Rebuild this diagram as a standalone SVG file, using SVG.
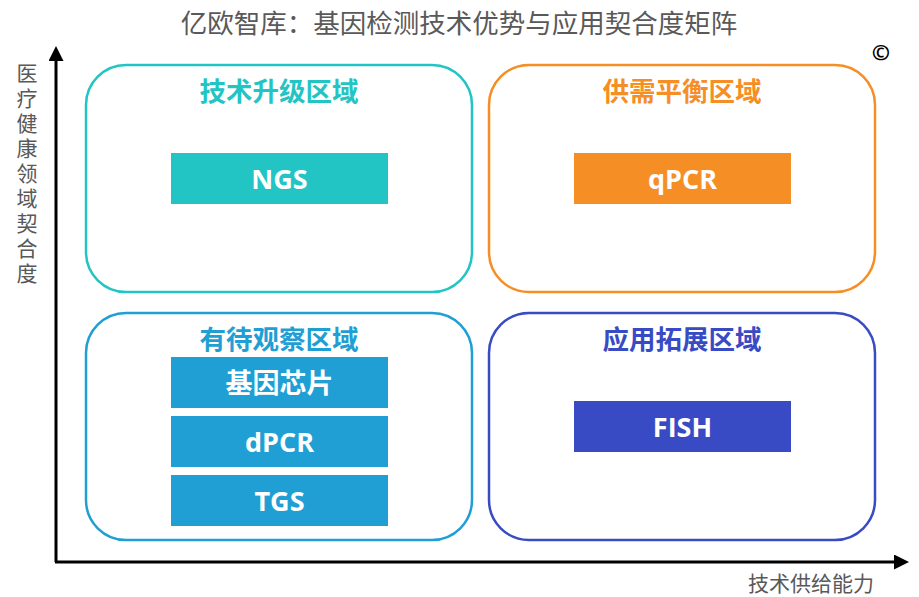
<svg xmlns="http://www.w3.org/2000/svg" width="919" height="597" viewBox="0 0 919 597">
<defs>
<style>
.t{font-family:"Open Sans","Noto Sans CJK SC",sans-serif}
.title{font-size:26.5px;fill:#595959}
.axl{font-size:21px;fill:#595959}
.zone{fill:none;stroke-width:2.5}
.zl{font-size:26.5px;font-weight:bold;text-anchor:middle}
.nl{font-size:27px;font-weight:bold;fill:#fff;text-anchor:middle}
</style>
<marker id="ah" markerWidth="15" markerHeight="15" refX="1" refY="7.5" orient="auto" markerUnits="userSpaceOnUse">
<path d="M0,0 L15,7.5 L0,15 Z" fill="#000"/>
</marker>
</defs>
<rect width="919" height="597" fill="#fff"/>
<text class="t title" x="459" y="33" text-anchor="middle">亿欧智库：基因检测技术优势与应用契合度矩阵</text>
<text class="t" x="881" y="60" font-size="22" font-weight="bold" fill="#000" text-anchor="middle">©</text>
<g id="connectors">
<path d="M56,562 V60" stroke="#000" stroke-width="3" fill="none" marker-end="url(#ah)"/>
<path d="M55,562 H895" stroke="#000" stroke-width="3" fill="none" marker-end="url(#ah)"/>
</g>
<text class="t axl" x="26" y="63" style="writing-mode:vertical-rl;letter-spacing:4px">医疗健康领域契合度</text>
<text class="t axl" x="811" y="591" text-anchor="middle">技术供给能力</text>
<g id="zone-upgrade">
<rect class="zone" x="86" y="65" width="386" height="227" rx="40" stroke="#23C4C4"/>
<text class="t zl" x="279" y="101" fill="#23C4C4">技术升级区域</text>
</g>
<g id="zone-balance">
<rect class="zone" x="489" y="65" width="386" height="227" rx="40" stroke="#F68E26"/>
<text class="t zl" x="682" y="101" fill="#F68E26">供需平衡区域</text>
</g>
<g id="zone-observe">
<rect class="zone" x="86" y="313" width="386" height="227" rx="40" stroke="#1F9FD3"/>
<text class="t zl" x="279" y="349" fill="#1F9FD3">有待观察区域</text>
</g>
<g id="zone-expand">
<rect class="zone" x="489" y="313" width="386" height="227" rx="40" stroke="#384BC5"/>
<text class="t zl" x="682" y="349" fill="#384BC5">应用拓展区域</text>
</g>
<g id="node-ngs">
<rect x="171" y="153" width="217" height="51" fill="#23C4C4"/>
<text class="t nl" x="279.5" y="189">NGS</text>
</g>
<g id="node-qpcr">
<rect x="574" y="153" width="217" height="51" fill="#F68E26"/>
<text class="t nl" x="682.5" y="189">qPCR</text>
</g>
<g id="node-chip">
<rect x="171" y="357" width="217" height="51" fill="#1F9FD3"/>
<text class="t nl" x="279.5" y="393">基因芯片</text>
</g>
<g id="node-dpcr">
<rect x="171" y="416" width="217" height="51" fill="#1F9FD3"/>
<text class="t nl" x="279.5" y="452">dPCR</text>
</g>
<g id="node-tgs">
<rect x="171" y="475" width="217" height="51" fill="#1F9FD3"/>
<text class="t nl" x="279.5" y="511">TGS</text>
</g>
<g id="node-fish">
<rect x="574" y="401" width="217" height="51" fill="#384BC5"/>
<text class="t nl" x="682.5" y="437">FISH</text>
</g>
</svg>
